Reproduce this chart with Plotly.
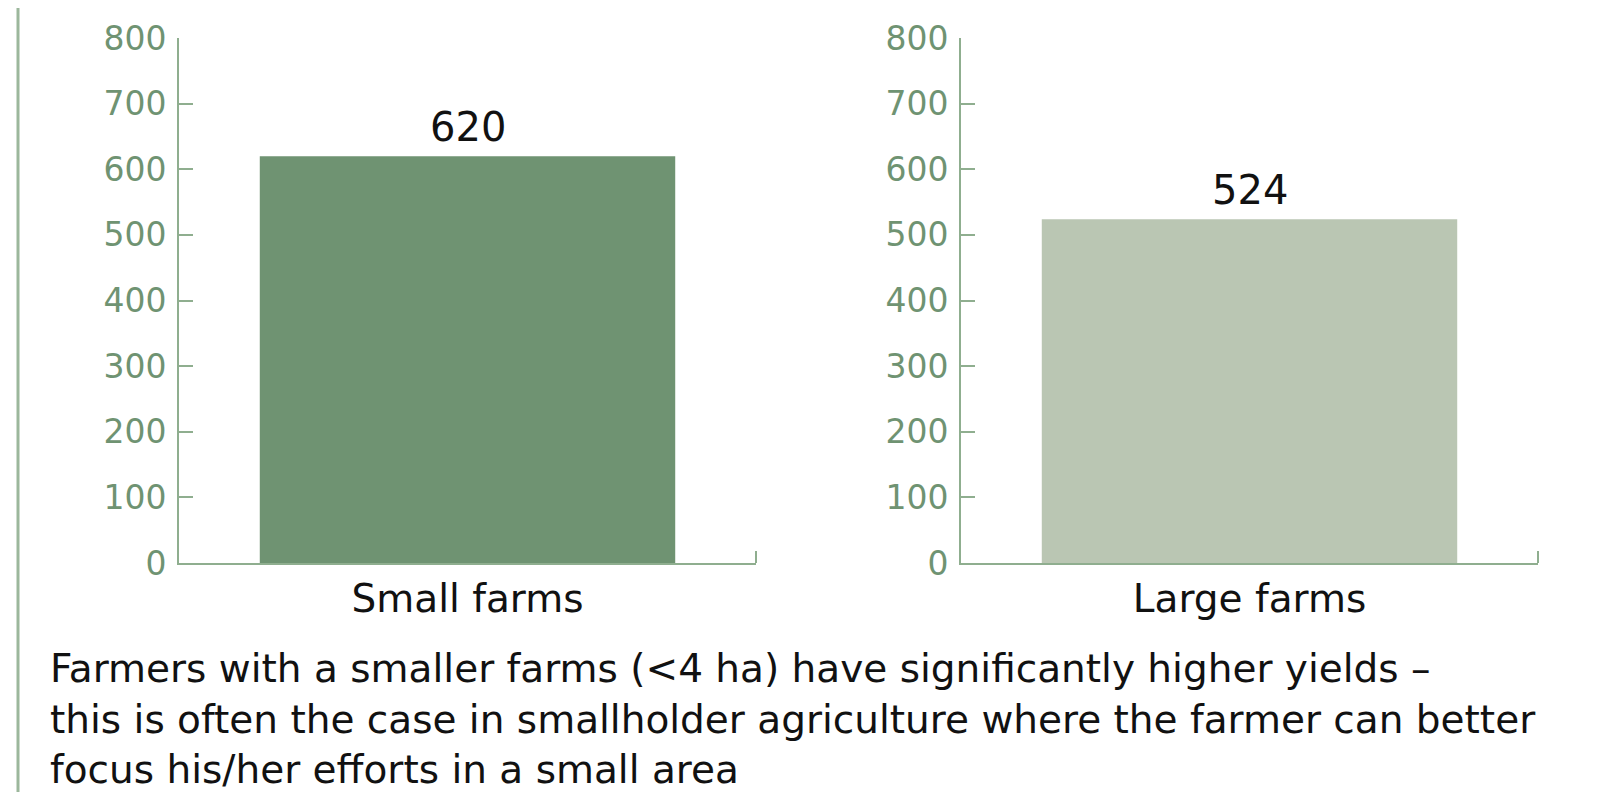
import plotly.graph_objects as go

categories = ["Small farms", "Large farms"]
values = [620, 524]
bar_colors = ["#6f9372", "#bac6b3"]
y_ticks = [0, 100, 200, 300, 400, 500, 600, 700, 800]
caption_lines = [
    "Farmers with a smaller farms (<4 ha) have significantly higher yields –",
    "this is often the case in smallholder agriculture where the farmer can better",
    "focus his/her efforts in a small area",
]

# page body has an 8px margin; size the figure so the page fits the 1609x800 window
OFF = 8
W, H = 1609 - 2 * OFF, 800 - 2 * OFF
FONT = "DejaVu Sans"
AXIS_COLOR = "#8fae8f"
TICK_COLOR = "#6f9372"


def px(xs):
    return (xs - OFF) / W


def py(ys):
    return (H - (ys - OFF)) / H


fig = go.Figure()

x_domains = [[px(179), px(756)], [px(961), px(1538)]]
y_domain = [py(563), py(38)]
plot_h = 525

for i, (cat, val, col) in enumerate(zip(categories, values, bar_colors)):
    xa = "x" if i == 0 else f"x{i+1}"
    ya = "y" if i == 0 else f"y{i+1}"
    fig.add_trace(go.Bar(x=[cat], y=[val], marker_color=col, marker_line_width=0,
                         xaxis=xa, yaxis=ya, showlegend=False, hoverinfo="x+y"))
    fig.add_annotation(x=cat, y=val, xref=xa, yref=ya, text=str(val), showarrow=False,
                       yanchor="bottom", yshift=4,
                       font=dict(family=FONT, size=40, color="#111111"))
    key = "" if i == 0 else str(i + 1)
    fig.update_layout(**{
        f"xaxis{key}": dict(domain=x_domains[i], anchor=ya, showline=True, linecolor=AXIS_COLOR,
                            linewidth=2, ticks="", showgrid=False, zeroline=False,
                            automargin=False,
                            tickfont=dict(family=FONT, size=39, color="#111111"),
                            ticklabelstandoff=0, fixedrange=True),
        f"yaxis{key}": dict(domain=y_domain, anchor=xa, range=[0, 800], tickvals=y_ticks,
                            showline=True, linecolor=AXIS_COLOR, linewidth=2, ticks="inside",
                            ticklen=14, tickcolor=AXIS_COLOR, tickwidth=2, showgrid=False,
                            zeroline=False, automargin=False,
                            tickfont=dict(family=FONT, size=33, color=TICK_COLOR),
                            ticklabelstandoff=4, fixedrange=True),
    })
    # end tick at the right end of each x axis
    fig.add_shape(type="line", xref=f"{xa} domain", yref=f"{ya} domain", x0=1, x1=1,
                  y0=0, y1=12 / plot_h, line=dict(color=AXIS_COLOR, width=2))

fig.add_shape(type="line", xref="paper", yref="paper", x0=px(18), x1=px(18), y0=-0.02, y1=1.02,
              line=dict(color="#9cb79c", width=3))

fig.add_annotation(xref="paper", yref="paper", x=px(48), y=py(719), xanchor="left",
                   yanchor="middle", align="left", showarrow=False,
                   text="<br>".join(caption_lines),
                   font=dict(family=FONT, size=39, color="#111111"))

fig.update_layout(width=W, height=H, margin=dict(l=0, r=0, t=0, b=0, autoexpand=False),
                  bargap=0.28, paper_bgcolor="white", plot_bgcolor="white",
                  template="none", showlegend=False)

fig.write_html("out.html")
